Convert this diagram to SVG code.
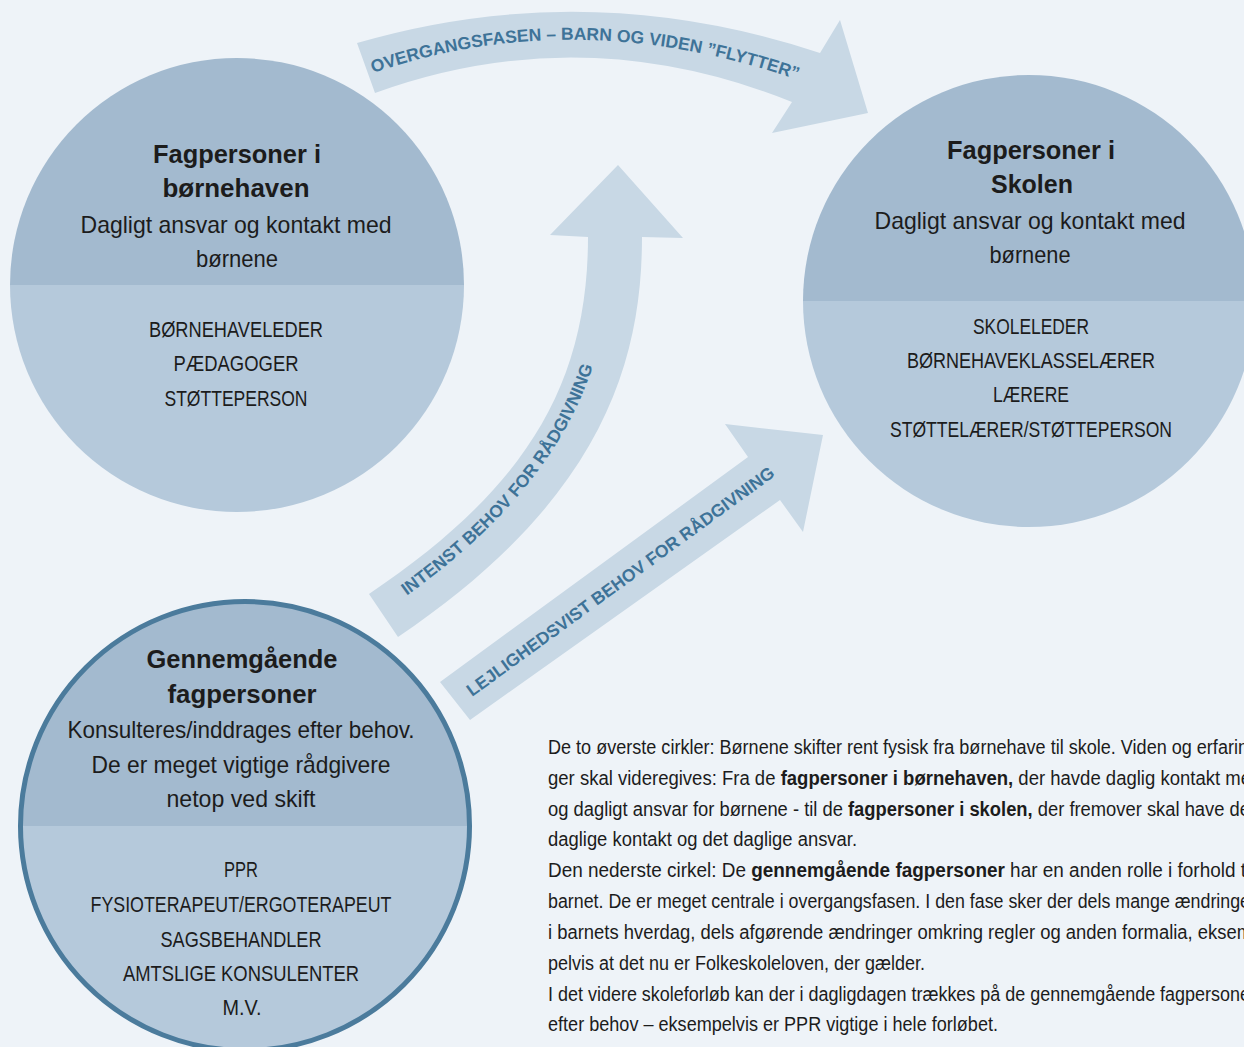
<svg xmlns="http://www.w3.org/2000/svg" width="1244" height="1047" viewBox="0 0 1244 1047">
<style>
.bg{fill:#eef3f8}
.arrow{fill:#c8d8e5}
.top{fill:#a3bacf}
.bot{fill:#b5c9db}
.ring{fill:none;stroke:#4b7b9c;stroke-width:5}
.t{font-family:"Liberation Sans",Arial,sans-serif;fill:#1c1c1c;text-anchor:middle}
.h{font-size:25px;font-weight:bold}
.b{font-size:24px}
.l{font-size:22px}
.lab{font-family:"Liberation Sans",Arial,sans-serif;font-weight:bold;font-size:17.5px;fill:#3e7398}
.p{font-family:"Liberation Sans",Arial,sans-serif;font-size:20px;fill:#1c1c1c}
.p tspan.bd{font-weight:bold}
</style>
<defs>
<path id="pTop" d="M373,73 Q583,1 812,85"/>
<path id="pInt" d="M382,613 C555,496 612,380 612,237"/>
</defs>
<rect class="bg" x="0" y="0" width="1244" height="1047"/>

<g id="connectors">
<g id="arrow-overgang">
<path class="arrow" d="M357,43 Q587,-24 820,53 L840,20 L868,113 L772,133 L792,102 Q582,18 375,93 Z"/>
<text class="lab"><textPath href="#pTop" startOffset="0">OVERGANGSFASEN – BARN OG VIDEN ”FLYTTER”</textPath></text>
</g>
<g id="arrow-intenst">
<path class="arrow" d="M369,594 C520,492 588,391 588,237 L550,235 L618,165 L683,238 L642,237 C642,367 598,502 398,637 Z"/>
<text class="lab"><textPath href="#pInt" startOffset="30">INTENST BEHOV FOR RÅDGIVNING</textPath></text>
</g>
<g id="arrow-lejlighed">
<path class="arrow" d="M440,682 L748,457 L725,424 L823,435 L803,532 L780,500 L470,720 Z"/>
<text class="lab" x="472" y="697" transform="rotate(-36.1 472 697)" textLength="376" lengthAdjust="spacingAndGlyphs">LEJLIGHEDSVIST BEHOV FOR RÅDGIVNING</text>
</g>
</g>

<g id="node-boernehave">
<path class="top" d="M10,285 A227,227 0 0 1 464,285 Z"/>
<path class="bot" d="M10,285 A227,227 0 0 0 464,285 Z"/>
<text class="t h" x="237" y="163" textLength="168" lengthAdjust="spacingAndGlyphs">Fagpersoner i</text>
<text class="t h" x="236" y="197" textLength="147" lengthAdjust="spacingAndGlyphs">børnehaven</text>
<text class="t b" x="236" y="233" textLength="311" lengthAdjust="spacingAndGlyphs">Dagligt ansvar og kontakt med</text>
<text class="t b" x="237" y="267" textLength="82" lengthAdjust="spacingAndGlyphs">børnene</text>
<text class="t l" x="236" y="337" textLength="174" lengthAdjust="spacingAndGlyphs">BØRNEHAVELEDER</text>
<text class="t l" x="236" y="371" textLength="125" lengthAdjust="spacingAndGlyphs">PÆDAGOGER</text>
<text class="t l" x="236" y="406" textLength="143" lengthAdjust="spacingAndGlyphs">STØTTEPERSON</text>
</g>

<g id="node-skolen">
<path class="top" d="M803,301 A226,226 0 0 1 1255,301 Z"/>
<path class="bot" d="M803,301 A226,226 0 0 0 1255,301 Z"/>
<text class="t h" x="1031" y="159" textLength="168" lengthAdjust="spacingAndGlyphs">Fagpersoner i</text>
<text class="t h" x="1032" y="193" textLength="82" lengthAdjust="spacingAndGlyphs">Skolen</text>
<text class="t b" x="1030" y="229" textLength="311" lengthAdjust="spacingAndGlyphs">Dagligt ansvar og kontakt med</text>
<text class="t b" x="1030" y="263" textLength="81" lengthAdjust="spacingAndGlyphs">børnene</text>
<text class="t l" x="1031" y="334" textLength="116" lengthAdjust="spacingAndGlyphs">SKOLELEDER</text>
<text class="t l" x="1031" y="368" textLength="248" lengthAdjust="spacingAndGlyphs">BØRNEHAVEKLASSELÆRER</text>
<text class="t l" x="1031" y="402" textLength="76" lengthAdjust="spacingAndGlyphs">LÆRERE</text>
<text class="t l" x="1031" y="437" textLength="282" lengthAdjust="spacingAndGlyphs">STØTTELÆRER/STØTTEPERSON</text>
</g>

<g id="node-gennemgaaende">
<path class="top" d="M20.5,826 A224.5,224.5 0 0 1 469.5,826 Z"/>
<path class="bot" d="M20.5,826 A224.5,224.5 0 0 0 469.5,826 Z"/>
<circle class="ring" cx="245" cy="826" r="224.5"/>
<text class="t h" x="242" y="668" textLength="191" lengthAdjust="spacingAndGlyphs">Gennemgående</text>
<text class="t h" x="242" y="703" textLength="149" lengthAdjust="spacingAndGlyphs">fagpersoner</text>
<text class="t b" x="241" y="738" textLength="347" lengthAdjust="spacingAndGlyphs">Konsulteres/inddrages efter behov.</text>
<text class="t b" x="241" y="773" textLength="299" lengthAdjust="spacingAndGlyphs">De er meget vigtige rådgivere</text>
<text class="t b" x="241" y="807" textLength="149" lengthAdjust="spacingAndGlyphs">netop ved skift</text>
<text class="t l" x="241" y="877" textLength="34" lengthAdjust="spacingAndGlyphs">PPR</text>
<text class="t l" x="241" y="912" textLength="301" lengthAdjust="spacingAndGlyphs">FYSIOTERAPEUT/ERGOTERAPEUT</text>
<text class="t l" x="241" y="947" textLength="161" lengthAdjust="spacingAndGlyphs">SAGSBEHANDLER</text>
<text class="t l" x="241" y="981" textLength="236" lengthAdjust="spacingAndGlyphs">AMTSLIGE KONSULENTER</text>
<text class="t l" x="242" y="1015" textLength="39" lengthAdjust="spacingAndGlyphs">M.V.</text>
</g>

<g id="caption">
<text class="p" x="548" y="754" textLength="700" lengthAdjust="spacingAndGlyphs">De to øverste cirkler: Børnene skifter rent fysisk fra børnehave til skole. Viden og erfarin</text>
<text class="p" x="548" y="785" textLength="703" lengthAdjust="spacingAndGlyphs">ger skal videregives: Fra de <tspan class="bd">fagpersoner i børnehaven,</tspan> der havde daglig kontakt me</text>
<text class="p" x="548" y="816" textLength="702" lengthAdjust="spacingAndGlyphs">og dagligt ansvar for børnene - til de <tspan class="bd">fagpersoner i skolen,</tspan> der fremover skal have de</text>
<text class="p" x="548" y="846" textLength="309" lengthAdjust="spacingAndGlyphs">daglige kontakt og det daglige ansvar.</text>
<text class="p" x="548" y="877" textLength="698" lengthAdjust="spacingAndGlyphs">Den nederste cirkel: De <tspan class="bd">gennemgående fagpersoner</tspan> har en anden rolle i forhold t</text>
<text class="p" x="548" y="908" textLength="702" lengthAdjust="spacingAndGlyphs">barnet. De er meget centrale i overgangsfasen. I den fase sker der dels mange ændringe</text>
<text class="p" x="548" y="939" textLength="704" lengthAdjust="spacingAndGlyphs">i barnets hverdag, dels afgørende ændringer omkring regler og anden formalia, eksem</text>
<text class="p" x="548" y="970" textLength="377" lengthAdjust="spacingAndGlyphs">pelvis at det nu er Folkeskoleloven, der gælder.</text>
<text class="p" x="548" y="1001" textLength="702" lengthAdjust="spacingAndGlyphs">I det videre skoleforløb kan der i dagligdagen trækkes på de gennemgående fagpersone</text>
<text class="p" x="548" y="1031" textLength="450" lengthAdjust="spacingAndGlyphs">efter behov – eksempelvis er PPR vigtige i hele forløbet.</text>
</g>
</svg>
